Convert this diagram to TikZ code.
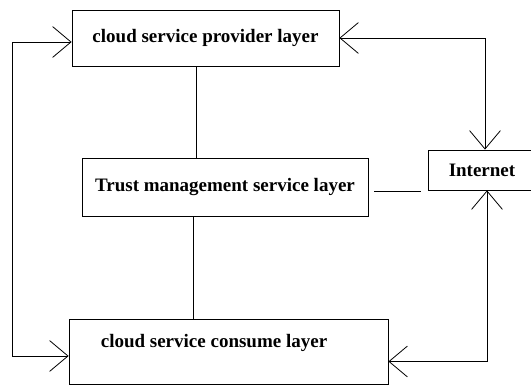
\documentclass[tikz,border=0pt]{standalone}
\usepackage{fontspec}
\setmainfont{Liberation Serif}
\usetikzlibrary{arrows.meta}

\begin{document}
\begin{tikzpicture}[x=1pt, y=1pt, line width=0.8pt,
  every node/.style={font=\fontsize{19}{22}\selectfont\bfseries},
  layer/.style={draw, rectangle, inner sep=0pt},
  link/.style={{Straight Barb[angle=80:24pt]}-{Straight Barb[angle=80:24pt]}}]
  \clip (0,0) rectangle (531,387);
  \node[layer, minimum width=267, minimum height=56] (provider) at (205.5,349) {cloud service provider layer};
  \node[layer, minimum width=286, minimum height=58] (trust) at (225,200) {Trust management service layer};
  \node[layer, minimum width=319, minimum height=65] (consume) at (228.5,35.5) {};
  \node (consumetext) at (214,44) {cloud service consume layer};
  \node[layer, minimum width=108, minimum height=40] (internet) at (482,217) {Internet};
  \coordinate (rail) at (12,0);
  \draw ([xshift=-9]provider.south) -- ([xshift=-9]provider.south |- trust.north);
  \draw ([xshift=-32]trust.south) -- ([xshift=-32]trust.south |- consume.north);
  \draw[shorten <=6, shorten >=7] (trust.east |- 0,196) -- (internet.west |- 0,196);
  \draw[link] ([yshift=-4]provider.west) -| ([yshift=-4.5]consume.west -| rail) -- ([yshift=-4.5]consume.west);
  \draw[link] (provider.east) -| ([xshift=3]internet.north);
  \draw[link] ([xshift=5]internet.south) |- ([yshift=-10]consume.east);
\end{tikzpicture}
\end{document}
